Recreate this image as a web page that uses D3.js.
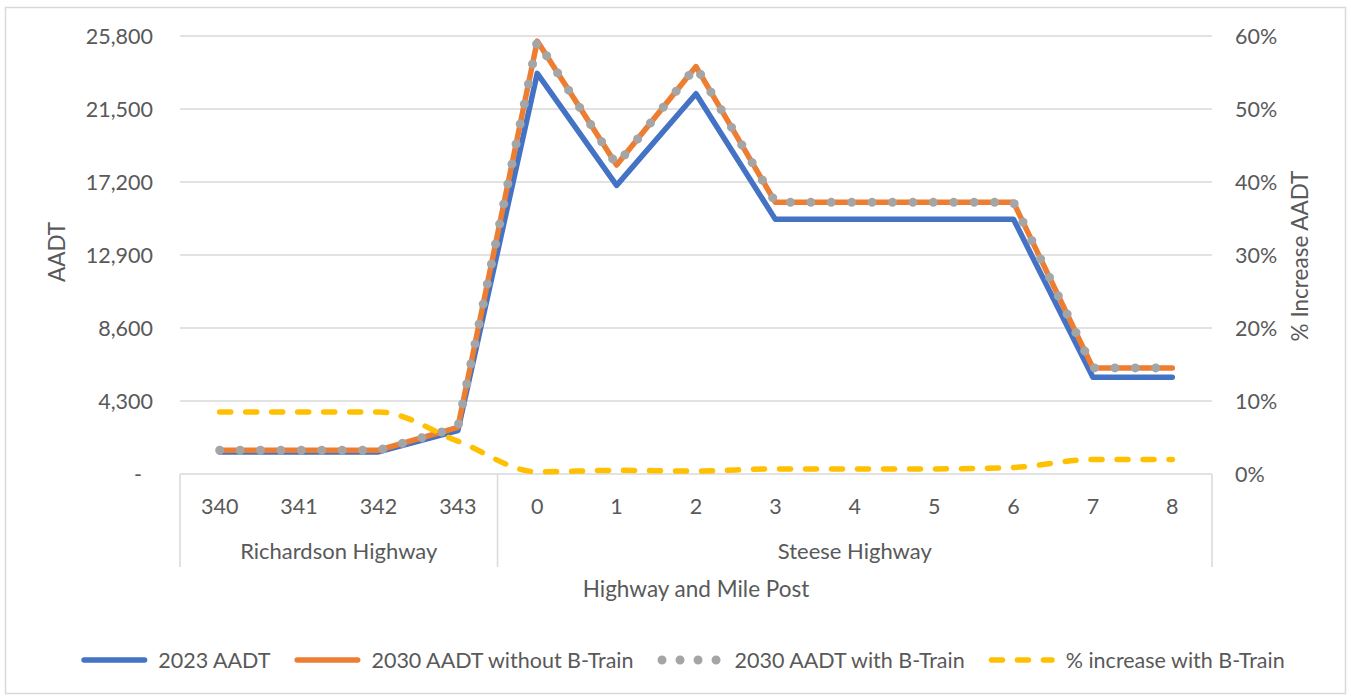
<!DOCTYPE html>
<html>
<head>
<meta charset="utf-8">
<script src="https://cdn.jsdelivr.net/npm/d3@7"></script>
<style>
  html, body { margin: 0; padding: 0; background: #fff; }
  svg { display: block; }
  text { font-family: Lato, "Open Sans", sans-serif; fill: #595959; }
</style>
</head>
<body>
<svg id="chart" width="1351" height="696"></svg>
<script>
// ---- data ----
const categories = ["340","341","342","343","0","1","2","3","4","5","6","7","8"];
const groupNames = ["Richardson Highway","Steese Highway"];
const groupSizes = [4, 9];
const aadt2023 = [1300,1300,1300,2550,23600,17000,22400,15000,15000,15000,15000,5700,5700];
const aadt2030Without = [1400,1400,1400,2750,25500,18200,24000,16000,16000,16000,16000,6250,6250];
const aadt2030With = [1400,1400,1400,2750,25500,18200,24000,16000,16000,16000,16000,6250,6250];
const pctIncrease = [0.085,0.085,0.085,0.045,0.003,0.005,0.004,0.007,0.007,0.007,0.009,0.02,0.02];
const leftTicks = [0,4300,8600,12900,17200,21500,25800];
const rightTicks = [0,0.1,0.2,0.3,0.4,0.5,0.6];
const seriesNames = ["2023 AADT","2030 AADT without B-Train","2030 AADT with B-Train","% increase with B-Train"];

// ---- layout ----
const svg = d3.select("#chart");
const L = 180, R = 1212, T = 36, B = 474;
const colors = { blue: "#4472C4", orange: "#ED7D31", gray: "#A5A5A5", yellow: "#FFC000", grid: "#D9D9D9" };
const FS = 21.5;

svg.append("rect").attr("x", 5.5).attr("y", 7.5).attr("width", 1340).attr("height", 686)
  .attr("fill", "#fff").attr("stroke", colors.grid).attr("stroke-width", 1.5);

const x = d3.scaleBand().domain(categories).range([L, R]).paddingInner(0).paddingOuter(0);
const yL = d3.scaleLinear().domain([0, 25800]).range([B, T]);
const yR = d3.scaleLinear().domain([0, 0.6]).range([B, T]);
const cx = c => x(c) + x.bandwidth() / 2;

// gridlines
svg.append("g").selectAll("line").data(leftTicks.filter(d => d > 0)).join("line")
  .attr("x1", L).attr("x2", R).attr("y1", d => yL(d)).attr("y2", d => yL(d))
  .attr("stroke", colors.grid).attr("stroke-width", 1.5);

// left axis labels
const fmt = d3.format(",");
svg.append("g").selectAll("text").data(leftTicks).join("text")
  .attr("x", d => d === 0 ? 142 : 153).attr("y", d => yL(d))
  .attr("dy", "0.35em").attr("text-anchor", "end").attr("font-size", FS)
  .text(d => d === 0 ? "-" : fmt(d));

// right axis labels
svg.append("g").selectAll("text").data(rightTicks).join("text")
  .attr("x", 1235).attr("y", d => yR(d))
  .attr("dy", "0.35em").attr("text-anchor", "start").attr("font-size", FS)
  .text(d => d3.format(".0%")(d));

// axis titles
svg.append("text").attr("transform", "translate(65,252) rotate(-90)")
  .attr("text-anchor", "middle").attr("font-size", 22.5).text("AADT");
svg.append("text").attr("transform", "translate(1308,256) rotate(-90)")
  .attr("text-anchor", "middle").attr("font-size", 22.5).text("% Increase AADT");
svg.append("text").attr("x", 696).attr("y", 589).attr("dy", "0.35em")
  .attr("text-anchor", "middle").attr("font-size", 22.5).text("Highway and Mile Post");

// category axis
const ax = svg.append("g");
ax.append("line").attr("x1", L).attr("x2", R).attr("y1", B).attr("y2", B)
  .attr("stroke", colors.grid).attr("stroke-width", 1.5);
let idx = 0;
const bounds = [x(categories[0])];
groupSizes.forEach(n => { idx += n; bounds.push(idx < categories.length ? x(categories[idx]) : R); });
ax.selectAll("line.sep").data(bounds).join("line").attr("class", "sep")
  .attr("x1", d => d).attr("x2", d => d).attr("y1", B).attr("y2", 567)
  .attr("stroke", colors.grid).attr("stroke-width", 1.5);
ax.selectAll("text.cat").data(categories).join("text").attr("class", "cat")
  .attr("x", d => cx(d)).attr("y", 506).attr("dy", "0.35em")
  .attr("text-anchor", "middle").attr("font-size", FS).text(d => d);
ax.selectAll("text.grp").data(groupNames).join("text").attr("class", "grp")
  .attr("x", (d, i) => (bounds[i] + bounds[i + 1]) / 2).attr("y", 551).attr("dy", "0.35em")
  .attr("text-anchor", "middle").attr("font-size", 22).text(d => d);

// lines
const lineL = d3.line().x((d, i) => cx(categories[i])).y(d => yL(d));
const lineR = d3.line().x((d, i) => cx(categories[i])).y(d => yR(d)).curve(d3.curveMonotoneX);

svg.append("path").datum(aadt2023).attr("d", lineL).attr("fill", "none")
  .attr("stroke", colors.blue).attr("stroke-width", 5.5).attr("stroke-linejoin", "round").attr("stroke-linecap", "round");
svg.append("path").datum(aadt2030Without).attr("d", lineL).attr("fill", "none")
  .attr("stroke", colors.orange).attr("stroke-width", 5.5).attr("stroke-linejoin", "round").attr("stroke-linecap", "round");
svg.append("path").datum(aadt2030With).attr("d", lineL).attr("fill", "none")
  .attr("stroke", colors.gray).attr("stroke-width", 9).attr("stroke-linecap", "round")
  .attr("stroke-dasharray", "0.01 20.4");
svg.append("path").datum(pctIncrease).attr("d", lineR).attr("fill", "none")
  .attr("stroke", colors.yellow).attr("stroke-width", 5.5).attr("stroke-linecap", "round")
  .attr("stroke-dasharray", "11 15");

// legend
const legend = svg.append("g");
const styles = [
  { stroke: colors.blue, w: 5.5, dash: null, cap: "round" },
  { stroke: colors.orange, w: 5.5, dash: null, cap: "round" },
  { stroke: colors.gray, w: 9, dash: "0.01 18", cap: "round" },
  { stroke: colors.yellow, w: 5.5, dash: "11 15", cap: "round" }
];
const ly = 660;
const items = [];
seriesNames.forEach((name, i) => {
  const g = legend.append("g");
  const st = styles[i];
  const x0 = i === 2 ? 4.5 : 2.75;
  g.append("line").attr("x1", x0).attr("x2", 66 - x0).attr("y1", ly).attr("y2", ly)
    .attr("stroke", st.stroke).attr("stroke-width", st.w).attr("stroke-linecap", st.cap)
    .attr("stroke-dasharray", st.dash);
  const t = g.append("text").attr("x", 77).attr("y", ly).attr("dy", "0.35em")
    .attr("font-size", FS).text(name);
  const w = t.node().getComputedTextLength();
  items.push({ g, width: 77 + w });
});
const gap = 24;
const total = d3.sum(items, d => d.width) + gap * (items.length - 1);
let lx = 683 - total / 2;
items.forEach(it => { it.g.attr("transform", `translate(${lx},0)`); lx += it.width + gap; });
</script>
</body>
</html>
